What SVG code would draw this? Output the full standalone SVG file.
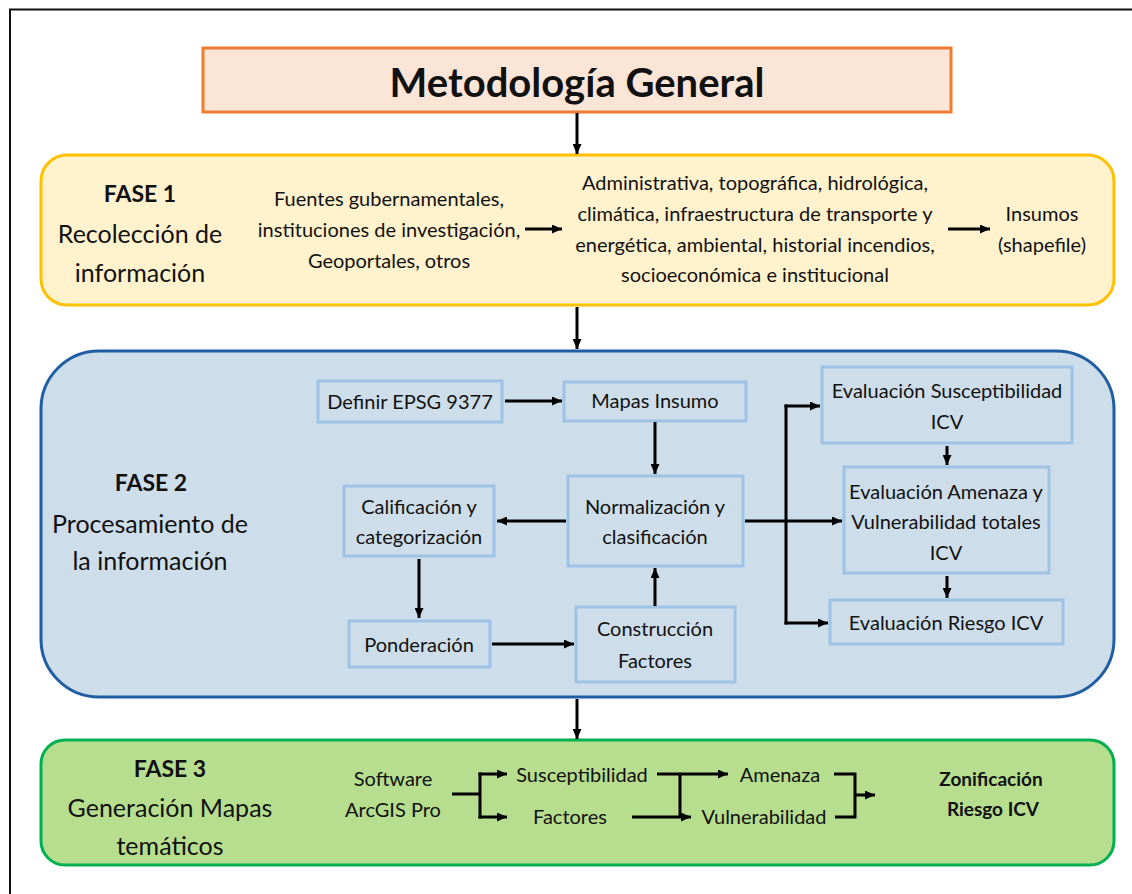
<svg xmlns="http://www.w3.org/2000/svg" width="1132" height="894" viewBox="0 0 1132 894">
<defs>
<marker id="ah" markerUnits="userSpaceOnUse" markerWidth="11" markerHeight="9" refX="10" refY="4.5" orient="auto">
<path d="M0,0 L10,4.5 L0,9 z" fill="#000"/>
</marker>
<style>
text{font-family:Lato,"Liberation Sans",sans-serif;fill:#111;text-anchor:middle}
.t{font-size:20px}
.ph{font-size:25px}
.phb{font-size:23px;font-weight:bold}
.title{font-size:40px;font-weight:bold}
.zb{font-size:19px;font-weight:bold}
.nb{fill:#CEDDEA;stroke:#9DC3E6;stroke-width:3}
.cn{fill:none;stroke:#000;stroke-width:3}
.ca{fill:none;stroke:#000;stroke-width:3;marker-end:url(#ah)}
</style>
</defs>
<rect width="1132" height="894" fill="#fff"/>
<path d="M10,894 V9.5 H1132" fill="none" stroke="#111" stroke-width="2"/>

<g id="title">
<rect x="203" y="48" width="748" height="64" fill="#FBE5D6" stroke="#ED7D31" stroke-width="3"/>
<text class="title" x="577" y="97">Metodología General</text>
</g>

<g id="fase1">
<rect x="41" y="155" width="1073" height="150" rx="26" fill="#FFF2CC" stroke="#FFC000" stroke-width="3"/>
<text class="phb" x="140" y="202">FASE 1</text>
<text class="ph" x="140" y="243">Recolección de</text>
<text class="ph" x="140" y="282">información</text>
</g>
<g id="fuentes">
<text class="t" x="389" y="206">Fuentes gubernamentales,</text>
<text class="t" x="389" y="237">instituciones de investigación,</text>
<text class="t" x="389" y="268">Geoportales, otros</text>
</g>
<g id="tipos">
<text class="t" x="755" y="190">Administrativa, topográfica, hidrológica,</text>
<text class="t" x="755" y="221">climática, infraestructura de transporte y</text>
<text class="t" x="755" y="252">energética, ambiental, historial incendios,</text>
<text class="t" x="755" y="282">socioeconómica e institucional</text>
</g>
<g id="insumos">
<text class="t" x="1042" y="221">Insumos</text>
<text class="t" x="1042" y="252">(shapefile)</text>
</g>

<g id="fase2">
<rect x="41" y="351" width="1073" height="346" rx="58" fill="#CEDDEA" stroke="#1F5EA3" stroke-width="3"/>
<text class="phb" x="151" y="491">FASE 2</text>
<text class="ph" x="150" y="533">Procesamiento de</text>
<text class="ph" x="150" y="570">la información</text>
</g>
<g id="definir">
<rect class="nb" x="318" y="381" width="184" height="41"/>
<text class="t" x="410" y="409">Definir EPSG 9377</text>
</g>
<g id="mapas">
<rect class="nb" x="564" y="382" width="182" height="39"/>
<text class="t" x="655" y="408">Mapas Insumo</text>
</g>
<g id="normalizacion">
<rect class="nb" x="568" y="476" width="175" height="90"/>
<text class="t" x="655" y="514">Normalización y</text>
<text class="t" x="655" y="544">clasificación</text>
</g>
<g id="calificacion">
<rect class="nb" x="344" y="486" width="150" height="70"/>
<text class="t" x="419" y="514">Calificación y</text>
<text class="t" x="419" y="544">categorización</text>
</g>
<g id="ponderacion">
<rect class="nb" x="349" y="621" width="141" height="46"/>
<text class="t" x="419" y="652">Ponderación</text>
</g>
<g id="construccion">
<rect class="nb" x="576" y="607" width="159" height="75"/>
<text class="t" x="655" y="636">Construcción</text>
<text class="t" x="655" y="668">Factores</text>
</g>
<g id="evalSusc">
<rect class="nb" x="822" y="367" width="250" height="76"/>
<text class="t" x="947" y="398">Evaluación Susceptibilidad</text>
<text class="t" x="947" y="429">ICV</text>
</g>
<g id="evalAmen">
<rect class="nb" x="844" y="467" width="205" height="106"/>
<text class="t" x="946" y="499">Evaluación Amenaza y</text>
<text class="t" x="946" y="529">Vulnerabilidad totales</text>
<text class="t" x="946" y="560">ICV</text>
</g>
<g id="evalRiesgo">
<rect class="nb" x="830" y="600" width="233" height="44"/>
<text class="t" x="946" y="630">Evaluación Riesgo ICV</text>
</g>

<g id="fase3">
<rect x="41" y="740" width="1073" height="125" rx="24" fill="#B7DE8F" stroke="#00B050" stroke-width="3"/>
<text class="phb" x="170" y="777">FASE 3</text>
<text class="ph" x="170" y="817">Generación Mapas</text>
<text class="ph" x="170" y="855">temáticos</text>
</g>
<g id="software">
<text class="t" x="393" y="786">Software</text>
<text class="t" x="393" y="817">ArcGIS Pro</text>
</g>
<g id="susc3"><text class="t" x="582" y="782">Susceptibilidad</text></g>
<g id="fact3"><text class="t" x="570" y="824">Factores</text></g>
<g id="amen3"><text class="t" x="780" y="782">Amenaza</text></g>
<g id="vuln3"><text class="t" x="764" y="824">Vulnerabilidad</text></g>
<g id="zonif">
<text class="zb" x="991" y="786">Zonificación</text>
<text class="zb" x="993" y="816">Riesgo ICV</text>
</g>

<g id="connectors">
<line class="ca" x1="577" y1="113" x2="577" y2="154"/>
<line class="ca" x1="577" y1="307" x2="577" y2="349"/>
<line class="ca" x1="577" y1="699" x2="577" y2="739"/>
<line class="ca" x1="525" y1="229" x2="562" y2="229"/>
<line class="ca" x1="948" y1="229" x2="990" y2="229"/>

<line class="ca" x1="505" y1="401" x2="562" y2="401"/>
<line class="ca" x1="655" y1="422" x2="655" y2="474"/>
<line class="ca" x1="566" y1="521" x2="497" y2="521"/>
<line class="ca" x1="419" y1="559" x2="419" y2="618"/>
<line class="ca" x1="492" y1="644" x2="574" y2="644"/>
<line class="ca" x1="655" y1="606" x2="655" y2="568"/>
<line class="ca" x1="745" y1="521" x2="842" y2="521"/>
<line class="cn" x1="786" y1="404.5" x2="786" y2="624.5"/>
<line class="ca" x1="784.5" y1="406" x2="820" y2="406"/>
<line class="ca" x1="784.5" y1="623" x2="828" y2="623"/>
<line class="ca" x1="947" y1="446" x2="947" y2="465"/>
<line class="ca" x1="947" y1="576" x2="947" y2="598"/>

<line class="cn" x1="452" y1="794" x2="480" y2="794"/>
<line class="cn" x1="480" y1="772.5" x2="480" y2="818.5"/>
<line class="ca" x1="478.5" y1="774" x2="507" y2="774"/>
<line class="ca" x1="478.5" y1="817" x2="507" y2="817"/>
<line class="ca" x1="657" y1="774" x2="728" y2="774"/>
<line class="cn" x1="680" y1="774" x2="680" y2="817"/>
<line class="ca" x1="632" y1="817" x2="691" y2="817"/>
<polyline class="cn" points="834,774 855,774 855,817 835,817"/>
<line class="ca" x1="855" y1="795" x2="875" y2="795"/>
</g>
</svg>
